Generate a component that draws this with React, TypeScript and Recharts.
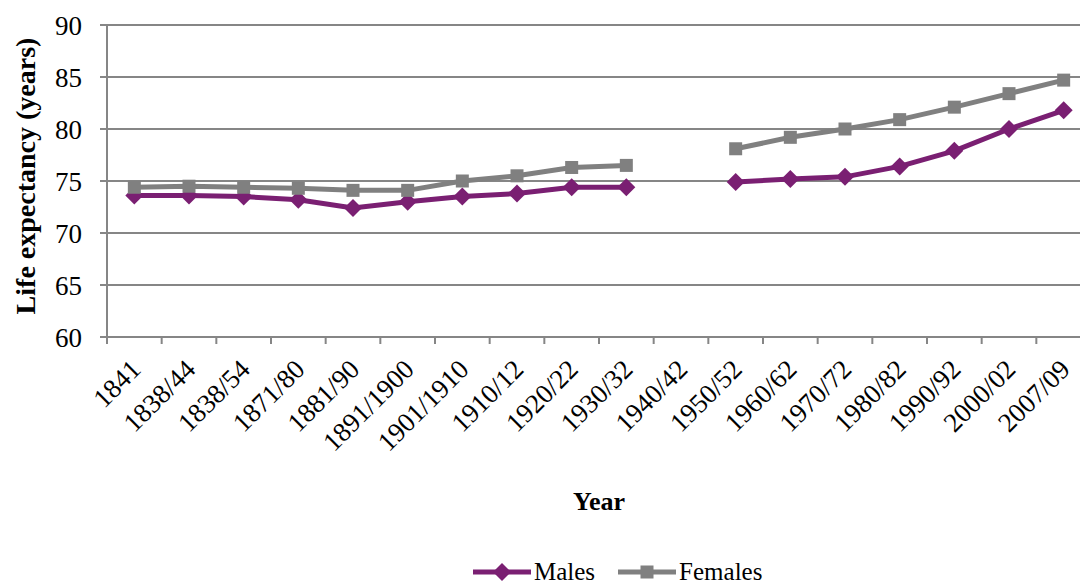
import React from 'react';
import { LineChart, Line, XAxis, YAxis, CartesianGrid, Legend } from 'recharts';

const categories = ['1841', '1838/44', '1838/54', '1871/80', '1881/90', '1891/1900', '1901/1910', '1910/12', '1920/22', '1930/32', '1940/42', '1950/52', '1960/62', '1970/72', '1980/82', '1990/92', '2000/02', '2007/09'];
const males: (number | null)[] = [73.6, 73.6, 73.5, 73.2, 72.4, 73.0, 73.5, 73.8, 74.4, 74.4, null, 74.9, 75.2, 75.4, 76.4, 77.9, 80.0, 81.8];
const females: (number | null)[] = [74.4, 74.5, 74.4, 74.3, 74.1, 74.1, 75.0, 75.5, 76.3, 76.5, null, 78.1, 79.2, 80.0, 80.9, 82.1, 83.4, 84.7];
const yTicks = [60, 65, 70, 75, 80, 85, 90];
const seriesNames = ['Males', 'Females'];

const data = categories.map((c, i) => ({ year: c, Males: males[i], Females: females[i] }));

const W = 1100;
const H = 584;
const MARGIN = { top: 25, right: 9, left: 0, bottom: 0 };
const Y_W = 107;
const BAND = (W - MARGIN.right - Y_W) / categories.length;
const FONT = 'Liberation Serif, DejaVu Serif, serif';
const GRID = '#868686';
const PURPLE = '#7A1F72';
const GREY = '#808080';

const XTick = (props: any) => {
  const { x, y, payload } = props;
  const bx = x - BAND / 2;
  const tx = x + 8;
  const ty = y + 34;
  return (
    <g>
      <line x1={bx} x2={bx} y1={y} y2={y + 7} stroke={GRID} strokeWidth={2} />
      <text
        x={tx}
        y={ty}
        transform={`rotate(-45, ${tx}, ${ty})`}
        textAnchor="end"
        style={{ fontFamily: FONT, fontSize: 27 }}
        fill="#000"
      >
        {payload.value}
      </text>
    </g>
  );
};

const YLabel = () => {
  const cx = 35;
  const cy = 176;
  return (
    <text x={cx} y={cy} transform={`rotate(-90, ${cx}, ${cy})`} textAnchor="middle" style={{ fontFamily: FONT, fontSize: 28, fontWeight: 'bold' }} fill="#000">
      Life expectancy (years)
    </text>
  );
};

const XLabel = (props: any) => {
  const vb = props.viewBox || { x: 107, y: 337, width: 984, height: 207 };
  return (
    <text x={vb.x + vb.width / 2} y={vb.y + 173} textAnchor="middle" style={{ fontFamily: FONT, fontSize: 26, fontWeight: 'bold' }} fill="#000">
      Year
    </text>
  );
};

const Diamond = (props: any) => {
  const { cx, cy, index } = props;
  if (cx == null || cy == null || isNaN(cy)) return <g key={`m${index}`} />;
  const r = 9;
  return <path key={`m${index}`} d={`M${cx},${cy - r}L${cx + r},${cy}L${cx},${cy + r}L${cx - r},${cy}Z`} fill={PURPLE} />;
};

const Square = (props: any) => {
  const { cx, cy, index } = props;
  if (cx == null || cy == null || isNaN(cy)) return <g key={`f${index}`} />;
  const s = 13;
  return <rect key={`f${index}`} x={cx - s / 2} y={cy - s / 2} width={s} height={s} fill={GREY} />;
};

const LegendContent = (props: any) => {
  const items = [...(props.payload || [])].sort((a: any, b: any) => seriesNames.indexOf(a.value) - seriesNames.indexOf(b.value));
  return (
    <div style={{ height: 40, display: 'flex', alignItems: 'flex-end', paddingLeft: 472, boxSizing: 'border-box' }}>
      {items.map((it: any) => {
        const isM = it.value === 'Males';
        return (
          <div key={it.value} style={{ display: 'flex', alignItems: 'center', marginRight: 22, height: 24 }}>
            <svg width={60} height={20} style={{ display: 'block' }}>
              <line x1={1} x2={59} y1={10} y2={10} stroke={it.color} strokeWidth={5} />
              {isM ? (
                <path d="M30,1L39,10L30,19L21,10Z" fill={it.color} />
              ) : (
                <rect x={23.5} y={3.5} width={13} height={13} fill={it.color} />
              )}
            </svg>
            <span style={{ fontFamily: FONT, fontSize: 25, color: '#000', lineHeight: '24px', marginLeft: 2, whiteSpace: 'nowrap' }}>{it.value}</span>
          </div>
        );
      })}
    </div>
  );
};

export default function App() {
  return (
    <div style={{ position: 'absolute', left: 0, top: 0, width: 1080, height: 584, overflow: 'hidden', background: '#fff' }}>
      <LineChart width={W} height={H} data={data} margin={MARGIN}>
        <CartesianGrid vertical={false} stroke={GRID} strokeWidth={2} />
        <XAxis
          dataKey="year"
          scale="band"
          interval={0}
          height={207}
          axisLine={{ stroke: GRID, strokeWidth: 2 }}
          tickLine={false}
          tickSize={0}
          tickMargin={0}
          tick={<XTick />}
          label={<XLabel />}
        />
        <YAxis
          width={Y_W}
          domain={[60, 90]}
          ticks={yTicks}
          interval={0}
          axisLine={{ stroke: GRID, strokeWidth: 2 }}
          tickLine={{ stroke: GRID, strokeWidth: 2 }}
          tickSize={7}
          tickMargin={18}
          tick={{ fontFamily: FONT, fontSize: 27, fill: '#000' }}
          label={<YLabel />}
        />
        <Legend verticalAlign="bottom" align="left" content={<LegendContent />} wrapperStyle={{ left: 0, width: 1080 }} />
        <Line type="linear" dataKey="Males" stroke={PURPLE} strokeWidth={5} dot={Diamond} activeDot={false} isAnimationActive={false} connectNulls={false} />
        <Line type="linear" dataKey="Females" stroke={GREY} strokeWidth={5} dot={Square} activeDot={false} isAnimationActive={false} connectNulls={false} />
      </LineChart>
    </div>
  );
}
